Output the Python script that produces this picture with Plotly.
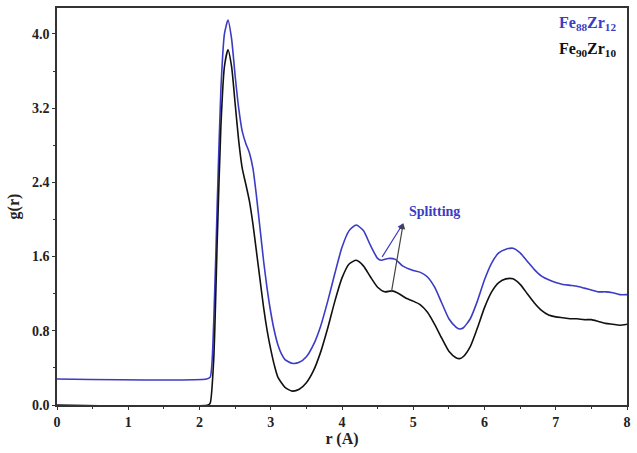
import plotly.graph_objects as go

r_blue = [0, 2.10, 2.15, 2.20, 2.25, 2.30, 2.35, 2.40, 2.45, 2.50, 2.55, 2.60, 2.65, 2.70, 2.75, 2.80,
          2.85, 2.90, 2.95, 3.00, 3.05, 3.10, 3.15, 3.20, 3.30, 3.40, 3.50, 3.60, 3.70, 3.80, 3.90,
          4.00, 4.10, 4.20, 4.30, 4.40, 4.50, 4.55, 4.65, 4.75, 4.85, 5.00, 5.10, 5.20, 5.30, 5.40,
          5.50, 5.60, 5.65, 5.70, 5.80, 5.90, 6.00, 6.10, 6.20, 6.30, 6.40, 6.50, 6.60, 6.70, 6.80,
          6.90, 7.00, 7.10, 7.20, 7.30, 7.40, 7.50, 7.60, 7.70, 7.80, 7.90, 8.00]
g_blue = [0.28, 0.28, 0.30, 0.90, 2.20, 3.40, 4.00, 4.15, 3.95, 3.55, 3.20, 2.95, 2.82, 2.72, 2.55, 2.25,
          1.90, 1.55, 1.25, 1.00, 0.80, 0.65, 0.55, 0.49, 0.45, 0.46, 0.52, 0.65, 0.85, 1.12, 1.42,
          1.70, 1.88, 1.94, 1.88, 1.72, 1.58, 1.56, 1.58, 1.57, 1.50, 1.45, 1.43, 1.38, 1.27, 1.10,
          0.93, 0.84, 0.82, 0.83, 0.93, 1.12, 1.35, 1.53, 1.64, 1.68, 1.69, 1.64, 1.55, 1.46, 1.39,
          1.35, 1.32, 1.30, 1.29, 1.28, 1.26, 1.24, 1.22, 1.22, 1.21, 1.19, 1.19]

r_black = [0, 2.12, 2.15, 2.20, 2.25, 2.30, 2.35, 2.40, 2.45, 2.50, 2.55, 2.60, 2.65, 2.70, 2.75, 2.80,
           2.85, 2.90, 2.95, 3.00, 3.05, 3.10, 3.20, 3.30, 3.40, 3.50, 3.60, 3.70, 3.80, 3.90, 4.00,
           4.10, 4.20, 4.30, 4.40, 4.50, 4.60, 4.70, 4.80, 4.90, 5.00, 5.10, 5.20, 5.30, 5.40, 5.50,
           5.60, 5.65, 5.70, 5.80, 5.90, 6.00, 6.10, 6.20, 6.30, 6.40, 6.50, 6.60, 6.70, 6.80, 6.90,
           7.00, 7.10, 7.20, 7.30, 7.40, 7.50, 7.60, 7.70, 7.80, 7.90, 8.00]
g_black = [0.0, 0.0, 0.02, 0.50, 1.80, 3.00, 3.65, 3.83, 3.65, 3.25, 2.85, 2.55, 2.38, 2.20, 1.95, 1.65,
           1.35, 1.05, 0.80, 0.60, 0.43, 0.30, 0.19, 0.15, 0.17, 0.24, 0.37, 0.57, 0.83, 1.12, 1.37,
           1.52, 1.56, 1.50, 1.38, 1.27, 1.22, 1.23, 1.20, 1.15, 1.12, 1.08, 1.00, 0.87, 0.72, 0.58,
           0.51, 0.50, 0.52, 0.63, 0.83, 1.05, 1.22, 1.32, 1.36, 1.36, 1.30, 1.20, 1.10, 1.02, 0.97,
           0.95, 0.94, 0.93, 0.93, 0.92, 0.92, 0.90, 0.88, 0.87, 0.86, 0.87]

x_ticks = [0, 1, 2, 3, 4, 5, 6, 7, 8]
y_ticks = [0.0, 0.8, 1.6, 2.4, 3.2, 4.0]

BLUE = "#3b3bc4"
BLACK = "#111111"
FONT = "Liberation Serif, Times New Roman, serif"

fig = go.Figure()
fig.add_trace(go.Scatter(x=r_blue, y=g_blue, mode="lines", line=dict(color=BLUE, width=1.6, shape="spline", smoothing=0.6),
                         name="Fe88Zr12", showlegend=False))
fig.add_trace(go.Scatter(x=r_black, y=g_black, mode="lines", line=dict(color=BLACK, width=1.6, shape="spline", smoothing=0.6),
                         name="Fe90Zr10", showlegend=False))

# splitting annotation
fig.add_annotation(x=5.3, y=2.09, text="<b>Splitting</b>", showarrow=False,
                   font=dict(family=FONT, size=14, color=BLUE))
fig.add_annotation(x=4.86, y=1.96, ax=4.55, ay=1.58, axref="x", ayref="y", xref="x", yref="y",
                   text="", showarrow=True, arrowhead=2, arrowsize=1, arrowwidth=1.2, arrowcolor=BLUE)
fig.add_annotation(x=4.86, y=1.96, ax=4.69, ay=1.20, axref="x", ayref="y", xref="x", yref="y",
                   text="", showarrow=True, arrowhead=2, arrowsize=1, arrowwidth=1.2, arrowcolor="#444444")

# legend text
fig.add_annotation(xref="paper", yref="paper", x=0.985, y=0.99, xanchor="right", yanchor="top",
                   text="<b>Fe<sub>88</sub>Zr<sub>12</sub></b>", showarrow=False,
                   font=dict(family=FONT, size=16, color=BLUE))
fig.add_annotation(xref="paper", yref="paper", x=0.985, y=0.925, xanchor="right", yanchor="top",
                   text="<b>Fe<sub>90</sub>Zr<sub>10</sub></b>", showarrow=False,
                   font=dict(family=FONT, size=16, color=BLACK))

axis_common = dict(showline=True, linecolor="#333333", linewidth=1.5, mirror=True, showgrid=False,
                   zeroline=False, ticks="outside", ticklen=3, tickwidth=1.2, tickcolor="#333333",
                   ticklabeloverflow="allow",
                   tickfont=dict(family=FONT, size=14, color="#222222"))

fig.update_xaxes(range=[0, 8], tickvals=x_ticks, ticktext=[f"<b>{v}</b>" for v in x_ticks],
                 minor=dict(dtick=0.5, ticks="outside", ticklen=2, tickcolor="#333333"),
                 title=dict(text="<b>r (A)</b>", font=dict(family=FONT, size=16, color="#222222"), standoff=2),
                 **axis_common)
fig.update_yaxes(range=[0, 4.28], tickvals=y_ticks, ticktext=[f"<b>{v:.1f}</b>" for v in y_ticks],
                 minor=dict(dtick=0.4, ticks="outside", ticklen=2, tickcolor="#333333"),
                 title=dict(text="<b>g(r)</b>", font=dict(family=FONT, size=16, color="#222222"), standoff=8),
                 **axis_common)

fig.update_layout(width=637, height=453, margin=dict(l=57, r=9, t=6, b=48),
                  plot_bgcolor="white", paper_bgcolor="white")

fig.write_html("out.html", config={"displayModeBar": False},
               post_script="document.body.style.margin='0';document.body.style.overflow='hidden';")
